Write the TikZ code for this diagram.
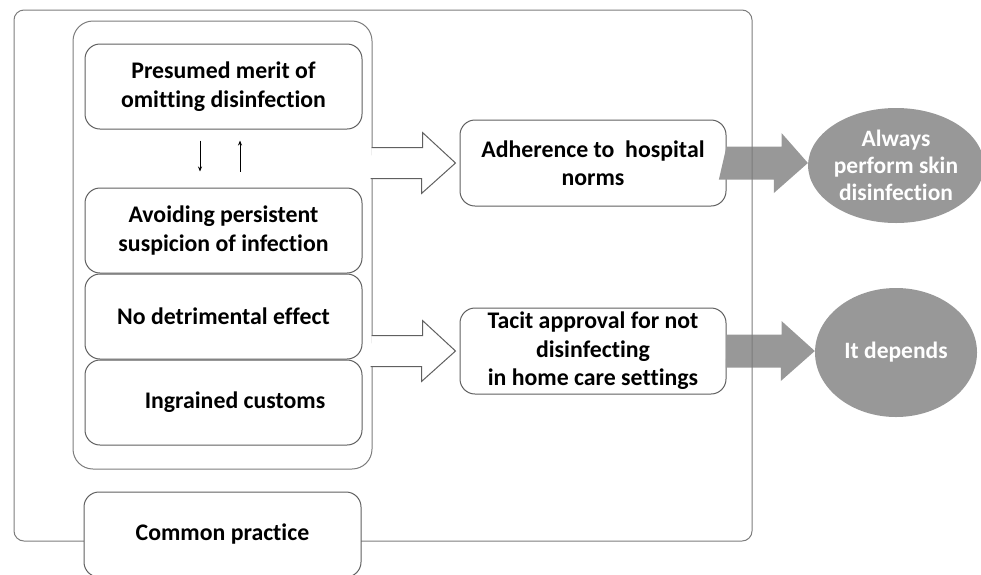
\documentclass[tikz,border=0pt]{standalone}
\usepackage{fontspec}
\setmainfont{Carlito}[Ligatures=NoCommon]
\usetikzlibrary{shapes.geometric, arrows.meta, positioning, calc}

\begin{document}
\begin{tikzpicture}[x=1pt, y=-1pt,
    frame/.style={draw=cframe, line width=1pt},
    card/.style={draw=cline, line width=1pt, fill=white, rounded corners=15pt,
        minimum width=277pt, minimum height=85pt, inner sep=2pt, align=center,
        font=\fontsize{23.8}{28.5}\selectfont\bfseries},
    result/.style={ellipse, fill=cgray, text=white, inner sep=0pt, align=center,
        minimum width=162pt, font=\fontsize{23.5}{27}\selectfont\bfseries},
    openarrow/.style={draw=cline, fill=white, line width=1pt},
    updown/.style={-{Stealth[length=5pt, width=4pt]}, line width=0.8pt}]

    % Colors
    \definecolor{cframe}{HTML}{7C7C7C}
    \definecolor{cline}{HTML}{606060}
    \definecolor{cgray}{HTML}{989898}

    \useasboundingbox (0,0) rectangle (981,574);

    % Outcomes
    \node[card, minimum width=266pt, minimum height=86pt] (adh) at (593,163) {Adherence to\ \ hospital\\norms};
    \node[card, minimum width=266pt, minimum height=86pt] (tacit) at (593,351) {Tacit approval for not\\disinfecting\\in home care settings};
    \node[result, minimum height=115pt] (always) at (896,165.5) {Always\\perform skin\\disinfection};
    \node[result, minimum height=129pt] (depends) at (896,352.5) {It depends};

    % Gray arrows
    \fill[cgray] ($(adh.east)+(0,-16.5)$) -- ++(55,0) -- ++(0,-13.5) -- (always.west |- adh.east)
        -- ++(-34,30) -- ++(0,-13.5) -- ++(-55,0) -- cycle;
    \fill[cgray] ($(tacit.east)+(0,-16.5)$) -- ++(55,0) -- ++(0,-13.5) -- (depends.west |- tacit.east)
        -- ++(-34,30) -- ++(0,-13.5) -- ++(-55,0) -- cycle;

    % Frames
    \node[frame, rounded corners=10pt, minimum width=738pt, minimum height=531pt] (outer) at (383,275.5) {};
    \node[frame, rounded corners=20pt, minimum width=299pt, minimum height=448pt] (grp) at (222.5,245) {};

    % Factors
    \node[card] (pres) at (223.5,86.5) {Presumed merit of\\omitting disinfection};
    \node[card] (avoid) at (223.5,230.5) {Avoiding persistent\\suspicion of infection};
    \node[card, below=0pt of avoid] (nodet) {No detrimental effect};
    \node[card, below=0pt of nodet] (ingr) {\hspace*{23pt}Ingrained customs};

    \draw[updown] ([xshift=-23.5pt, yshift=-11pt]pres.south) -- ([xshift=-23.5pt, yshift=16pt]avoid.north);
    \draw[updown] ([xshift=16.5pt, yshift=16pt]avoid.north) -- ([xshift=16.5pt, yshift=-11pt]pres.south);

    % Open arrows
    \draw[openarrow] ($(grp.east |- adh.west)+(-1,-15.5)$) -- ++(51,0) -- ++(0,-15)
        -- ($(adh.west)+(-4,0)$) -- ++(-34,30.5) -- ++(0,-15) -- ++(-51,0);
    \draw[openarrow] ($(grp.east |- tacit.west)+(-1,-15.5)$) -- ++(51,0) -- ++(0,-15)
        -- ($(tacit.west)+(-4,0)$) -- ++(-34,30.5) -- ++(0,-15) -- ++(-51,0);

    % Base
    \node[card] (common) at (222.5,534.5) {Common practice};
\end{tikzpicture}
\end{document}
